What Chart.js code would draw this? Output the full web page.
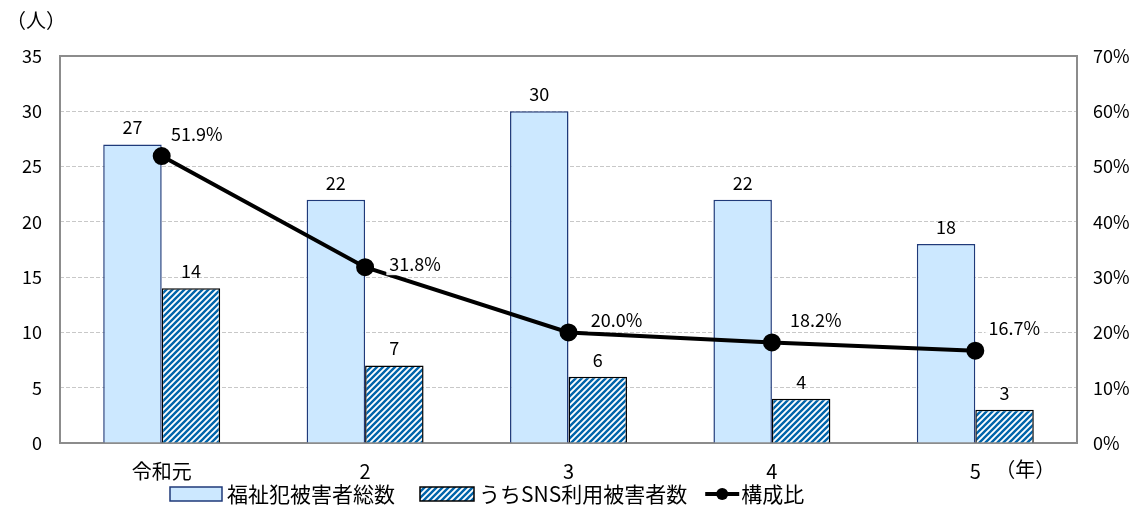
<!DOCTYPE html>
<html>
<head>
<meta charset="utf-8">
<script src="https://cdn.jsdelivr.net/npm/chart.js@4.4.1/dist/chart.umd.min.js"></script>
<style>
  html, body { margin: 0; padding: 0; background: #fff; }
  #wrap { width: 1141px; height: 511px; }
</style>
</head>
<body>
<div id="wrap"><canvas id="chart"></canvas></div>
<script>
const years = ["令和元", "2", "3", "4", "5"];
const totalVictims = [27, 22, 30, 22, 18];
const snsVictims = [14, 7, 6, 4, 3];
const shareRatio = [51.9, 31.8, 20.0, 18.2, 16.7];
const leftTicks = [0, 5, 10, 15, 20, 25, 30, 35];
const rightTicks = [0, 10, 20, 30, 40, 50, 60, 70];

const FONT = '"Noto Sans CJK JP", "Noto Sans", sans-serif';
const LIGHT_BLUE = "#cce8ff";
const NAVY = "#1f3a7a";
const STRIPE = "#0064aa";

// diagonal stripe fill for the SNS bars
function makeHatch() {
  const s = 6;
  const c = document.createElement("canvas");
  c.width = s; c.height = s;
  const g = c.getContext("2d");
  g.fillStyle = "#fff";
  g.fillRect(0, 0, s, s);
  g.strokeStyle = STRIPE;
  g.lineWidth = 2.4;
  g.beginPath();
  g.moveTo(0, s); g.lineTo(s, 0);
  g.moveTo(-s / 2, s / 2); g.lineTo(s / 2, -s / 2);
  g.moveTo(s / 2, s * 1.5); g.lineTo(s * 1.5, s / 2);
  g.stroke();
  return g.createPattern(c, "repeat");
}
const hatch = makeHatch();

// plot frame, value labels, unit labels and legend
const decorations = {
  id: "decorations",
  beforeDatasetsDraw(chart) {
    const { ctx, chartArea: a } = chart;
    ctx.save();
    ctx.strokeStyle = "#8c8c8c";
    ctx.lineWidth = 2;
    ctx.strokeRect(a.left, a.top, a.right - a.left, a.bottom - a.top);
    ctx.restore();
  },
  afterDatasetsDraw(chart) {
    const { ctx } = chart;
    ctx.save();
    ctx.fillStyle = "#000";
    ctx.font = "18px " + FONT;
    ctx.textAlign = "center";
    ctx.textBaseline = "bottom";
    [0, 1].forEach(i => {
      const meta = chart.getDatasetMeta(i);
      const vals = chart.data.datasets[i].data;
      meta.data.forEach((bar, j) => {
        ctx.fillText(String(vals[j]), bar.x, bar.y - 8);
      });
    });
    // percentage labels beside the line points
    const lineMeta = chart.getDatasetMeta(2);
    const shift = [[35, -22], [50, -3], [48, -12], [44, -22], [39, -23]];
    ctx.textBaseline = "middle";
    lineMeta.data.forEach((pt, j) => {
      const txt = shareRatio[j].toFixed(1) + "%";
      const w = ctx.measureText(txt).width;
      ctx.fillStyle = "rgba(255,255,255,0.9)";
      ctx.fillRect(pt.x + shift[j][0] - w / 2 - 3, pt.y + shift[j][1] - 11, w + 6, 22);
      ctx.fillStyle = "#000";
      ctx.fillText(txt, pt.x + shift[j][0], pt.y + shift[j][1]);
    });

    ctx.font = "20px " + FONT;
    ctx.textAlign = "left";
    ctx.fillText("（人）", 6, 20);
    const last = chart.scales.x.getPixelForValue(years.length - 1);
    ctx.fillText("（年）", last + 20, 469);

    // legend
    const y = 494;
    let x = 170;
    ctx.font = "21px " + FONT;
    ctx.lineWidth = 1.5;
    ctx.fillStyle = LIGHT_BLUE;
    ctx.fillRect(x, y - 7, 52, 14);
    ctx.strokeStyle = NAVY;
    ctx.strokeRect(x, y - 7, 52, 14);
    x += 57;
    ctx.fillStyle = "#000";
    ctx.fillText("福祉犯被害者総数", x, y);
    x += ctx.measureText("福祉犯被害者総数").width + 25;
    ctx.fillStyle = hatch;
    ctx.fillRect(x, y - 7, 54, 14);
    ctx.strokeStyle = "#000";
    ctx.strokeRect(x, y - 7, 54, 14);
    x += 59;
    ctx.fillStyle = "#000";
    ctx.fillText("うちSNS利用被害者数", x, y);
    x += ctx.measureText("うちSNS利用被害者数").width + 18;
    ctx.lineWidth = 4;
    ctx.beginPath();
    ctx.moveTo(x, y); ctx.lineTo(x + 34, y);
    ctx.stroke();
    ctx.beginPath();
    ctx.arc(x + 17, y, 6, 0, Math.PI * 2);
    ctx.fill();
    x += 36;
    ctx.fillText("構成比", x, y);
    ctx.restore();
  }
};

const gridColor = ctx => (ctx.tick && (ctx.tick.value === 0 || ctx.tick.value === 35)) ? "rgba(0,0,0,0)" : "#c8c8c8";

new Chart(document.getElementById("chart"), {
  type: "bar",
  data: {
    labels: years,
    datasets: [
      {
        label: "福祉犯被害者総数",
        data: totalVictims,
        backgroundColor: LIGHT_BLUE,
        borderColor: NAVY,
        borderWidth: 1.5,
        yAxisID: "y",
        order: 2
      },
      {
        label: "うちSNS利用被害者数",
        data: snsVictims,
        backgroundColor: hatch,
        borderColor: "#000",
        borderWidth: 1.5,
        yAxisID: "y",
        order: 2
      },
      {
        type: "line",
        label: "構成比",
        data: shareRatio,
        borderColor: "#000",
        backgroundColor: "#000",
        borderWidth: 4,
        pointRadius: 7,
        pointBackgroundColor: "#000",
        tension: 0,
        yAxisID: "y1",
        order: 1
      }
    ]
  },
  options: {
    responsive: true,
    maintainAspectRatio: false,
    animation: false,
    layout: { padding: { top: 56, left: 0, right: 0, bottom: 0 } },
    datasets: {
      bar: { barPercentage: 1, categoryPercentage: 0.575 }
    },
    plugins: {
      legend: { display: false },
      tooltip: { enabled: false }
    },
    scales: {
      x: {
        grid: { display: false, drawTicks: false },
        border: { display: false },
        ticks: {
          color: "#000",
          padding: 16,
          font: { family: FONT, size: 20 }
        },
        afterFit(scale) { scale.height = 68; }
      },
      y: {
        position: "left",
        min: 0,
        max: 35,
        afterBuildTicks(scale) { scale.ticks = leftTicks.map(v => ({ value: v })); },
        grid: { color: gridColor, drawTicks: false },
        border: { display: false, dash: [4, 2] },
        ticks: {
          color: "#000",
          padding: 18,
          font: { family: FONT, size: 18 }
        },
        afterFit(scale) { scale.width = 60; }
      },
      y1: {
        position: "right",
        min: 0,
        max: 70,
        afterBuildTicks(scale) { scale.ticks = rightTicks.map(v => ({ value: v })); },
        grid: { display: false, drawTicks: false },
        border: { display: false },
        ticks: {
          color: "#000",
          padding: 16,
          font: { family: FONT, size: 18 },
          callback: v => v + "%"
        },
        afterFit(scale) { scale.width = 64; }
      }
    }
  },
  plugins: [decorations]
});
</script>
</body>
</html>
